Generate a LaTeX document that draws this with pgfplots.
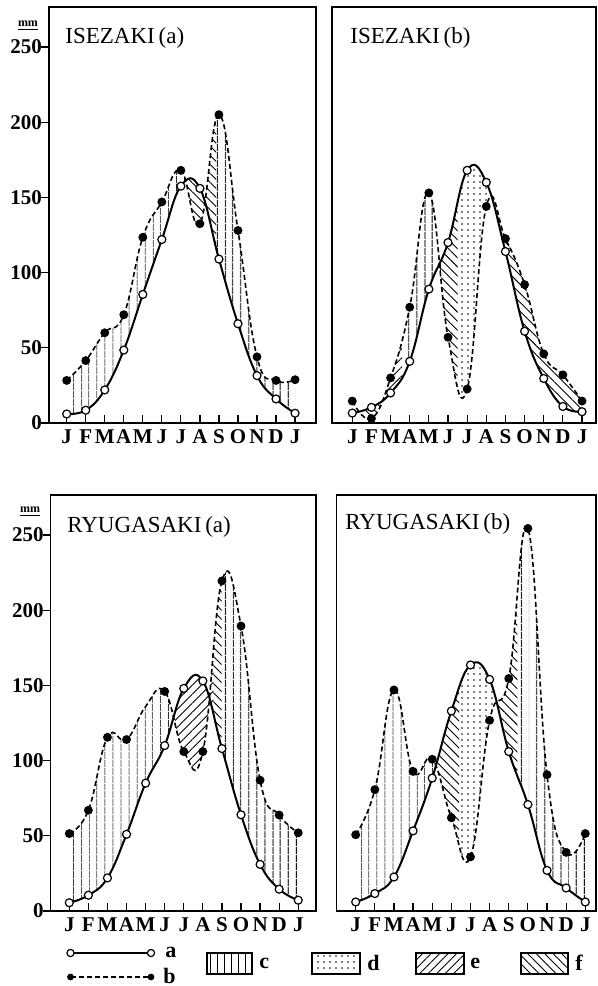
\documentclass[border=0pt]{standalone}
\usepackage{fontspec}
\setmainfont{Liberation Serif}
\usepackage{pgfplots}
\pgfplotsset{compat=1.18}
\usepgfplotslibrary{fillbetween}
\usetikzlibrary{patterns.meta}

\pgfplotsset{
  panel/.style={
    scale only axis, anchor=south west,
    height=208pt,
    ymin=0, ymax=276.6,
    axis line style={line width=0.7pt},
    tick pos=left, tick align=inside,
    xtick={0,...,12},
    xticklabels={J,F,M,A,M,J,J,A,S,O,N,D,J},
    major tick length=4pt,
    tick style={black, line width=0.6pt},
    ticklabel style={font=\fontsize{10.5}{12}\selectfont\bfseries},
    /pgf/number format/assume math mode=true,
    ytick=\empty,
  },
  yleft/.style={ytick={0,50,...,250}, ytick style={xshift=-4pt}},
  aline/.style={black, line width=1pt, smooth, tension=0.7, mark=*, mark size=2pt,
    mark options={solid, fill=white, draw=black, line width=0.6pt}},
  bline/.style={black, line width=0.8pt, dash pattern=on 2.5pt off 1.5pt, smooth, tension=0.75,
    mark=*, mark size=1.8pt, mark options={solid, fill=black}},
  pc/.style={draw=none, pattern={Lines[angle=90, distance=4pt, line width=0.45pt]}},
  pd/.style={draw=none, pattern={Dots[distance=3pt, radius=0.45pt]}},
  pe/.style={draw=none, pattern={Lines[angle=45, distance=3.2pt, line width=0.45pt]}},
  pf/.style={draw=none, pattern={Lines[angle=-45, distance=3.2pt, line width=0.45pt]}},
}
\newcommand{\ttl}[1]{\fontsize{11.5}{12}\selectfont #1}
\newcommand{\mm}{\fontsize{6}{6}\selectfont\bfseries\underline{mm}}
% region between the curves A and B for x in [#2,#3]
\newcommand{\region}[3]{\addplot[#1] fill between[of=A and B, soft clip={domain=#2:#3}];}

\begin{document}
\begin{tikzpicture}

% ISEZAKI (a)
\begin{axis}[panel, yleft, at={(24.5pt,-211.5pt)}, width=133.5pt, xmin=-0.93, xmax=13.10]
\addplot[aline, name path=A] coordinates {(0,6)(1,8.5)(2,22)(3,48.5)(4,85.5)(5,122)(6,157.5)(7,156)(8,109)(9,66)(10,31.5)(11,16)(12,6.5)};
\addplot[bline, name path=B] coordinates {(0,28.3)(1,41.5)(2,60)(3,72)(4,123.5)(5,147)(6,168)(7,132.5)(8,205)(9,128)(10,44)(11,28.3)(12,28.8)};
\region{pc}{-0.5}{6.35}
\region{pf}{6.35}{7.85}
\region{pc}{7.85}{12.5}
\node[anchor=base west, inner sep=0pt] at (rel axis cs:0.06,0.913) {\ttl{ISEZAKI\,(a)}};
\end{axis}
\node at (14pt,-13pt) {\mm};

% ISEZAKI (b)
\begin{axis}[panel, at={(166pt,-211.5pt)}, width=132pt, xmin=-1.06, xmax=12.73]
\addplot[aline, name path=A] coordinates {(0,6.6)(1,10.4)(2,20)(3,41)(4,89)(5,120)(6,168)(7,160)(8,114)(9,61)(10,29.6)(11,11)(12,7.5)};
\addplot[bline, name path=B] coordinates {(0,14.6)(1,3)(2,30)(3,77)(4,153)(5,57)(6,22.6)(7,144)(8,122.6)(9,92)(10,46)(11,32)(12,14.6)};
\region{pf}{0.6}{1.5}
\region{pe}{1.6}{2.6}
\region{pc}{2.6}{4.65}
\region{pf}{4.65}{5.5}
\region{pd}{5.5}{7.8}
\region{pf}{7.8}{12.5}
\node[anchor=base west, inner sep=0pt] at (rel axis cs:0.068,0.913) {\ttl{ISEZAKI\,(b)}};
\end{axis}

% RYUGASAKI (a)
\begin{axis}[panel, yleft, at={(25.35pt,-455.5pt)}, width=132.65pt, xmin=-0.975, xmax=12.93]
\addplot[aline, name path=A] coordinates {(0,5.5)(1,10.5)(2,22)(3,51)(4,85)(5,110)(6,148)(7,153)(8,108)(9,64)(10,31)(11,14.5)(12,7.2)};
\addplot[bline, name path=B, mark indices={1,2,3,4,6,7,8,9,10,11,12,13}] coordinates {(0,51.5)(1,67)(2,115.5)(3,114)(4,136)(5,146)(6,106)(7,106)(8,219.5)(9,189.5)(10,87)(11,63.8)(12,52)};
\region{pc}{-0.5}{5.55}
\region{pe}{5.55}{7.55}
\region{pf}{7.55}{7.95}
\region{pc}{7.95}{12.5}
\node[anchor=base west, inner sep=0pt] at (rel axis cs:0.061,0.909) {\ttl{RYUGASAKI\,(a)}};
\end{axis}
\node at (15pt,-256pt) {\mm};

% RYUGASAKI (b)
\begin{axis}[panel, at={(168.35pt,-455.5pt)}, width=129.65pt, xmin=-0.993, xmax=12.56]
\addplot[aline, name path=A] coordinates {(0,6)(1,11.6)(2,22.6)(3,53.3)(4,88.4)(5,133)(6,163.6)(7,154)(8,106)(9,70.8)(10,27)(11,15.3)(12,6)};
\addplot[bline, name path=B] coordinates {(0,50.7)(1,80.7)(2,147)(3,92.8)(4,100.9)(5,62)(6,36)(7,126.8)(8,154.6)(9,254.4)(10,90.6)(11,39)(12,51.5)};
\region{pc}{-0.5}{4.3}
\region{pf}{4.3}{5.4}
\region{pd}{5.4}{7.4}
\region{pf}{7.4}{8.45}
\region{pc}{8.45}{12.5}
\node[anchor=base west, inner sep=0pt] at (rel axis cs:0.032,0.916) {\ttl{RYUGASAKI\,(b)}};
\end{axis}

% legend
\begin{scope}[font=\fontsize{11}{12}\selectfont\bfseries]
\draw[line width=1pt] (35.25pt,-476.5pt) -- (75.5pt,-476.5pt);
\draw[fill=white, line width=0.6pt] (35.25pt,-476.5pt) circle (1.8pt) (75.5pt,-476.5pt) circle (1.8pt);
\node[anchor=west, inner sep=0pt] at (82.5pt,-476pt) {a};
\draw[line width=0.8pt, dash pattern=on 2.5pt off 1.5pt] (35.25pt,-488.5pt) -- (75.5pt,-488.5pt);
\fill (35.25pt,-488.5pt) circle (1.7pt) (75.5pt,-488.5pt) circle (1.7pt);
\node[anchor=west, inner sep=0pt] at (81.5pt,-488pt) {b};
\draw[line width=0.9pt, pattern={Lines[angle=90, distance=3.5pt, line width=0.45pt]}] (103.5pt,-476.5pt) rectangle (126pt,-487pt);
\node[anchor=west, inner sep=0pt] at (129.5pt,-481.5pt) {c};
\draw[line width=0.9pt, pattern={Dots[distance=3pt, radius=0.45pt]}] (156pt,-476.5pt) rectangle (180pt,-487pt);
\node[anchor=west, inner sep=0pt] at (183.5pt,-481.5pt) {d};
\draw[line width=0.9pt, pattern={Lines[angle=45, distance=3pt, line width=0.45pt]}] (208pt,-476.5pt) rectangle (232pt,-487pt);
\node[anchor=west, inner sep=0pt] at (235pt,-481.5pt) {e};
\draw[line width=0.9pt, pattern={Lines[angle=-45, distance=3pt, line width=0.45pt]}] (260.5pt,-476.5pt) rectangle (284pt,-487pt);
\node[anchor=west, inner sep=0pt] at (287.5pt,-481.5pt) {f};
\end{scope}
\path (0,0) rectangle (298.5pt,-493pt);
\end{tikzpicture}
\end{document}
